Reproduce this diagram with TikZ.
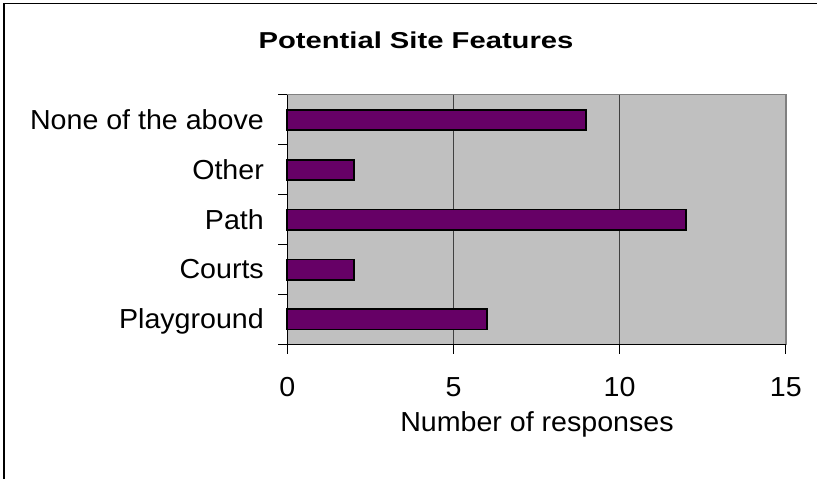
\documentclass[tikz,border=0pt]{standalone}
\usepackage{fontspec}
\setmainfont{Liberation Sans}
\newfontfamily\titlefont[FakeStretch=1.27]{Liberation Sans}
\newfontfamily\labelfont[FakeStretch=1.04]{Liberation Sans}
\definecolor{plotgray}{HTML}{C0C0C0}
\definecolor{framegray}{HTML}{808080}
\definecolor{barpurple}{HTML}{660066}
\definecolor{gridgray}{HTML}{404040}
\begin{document}
\begin{tikzpicture}[x=1pt,y=-1pt,
  lbl/.style={inner sep=0pt,font=\labelfont\fontsize{27.5}{27.5}\selectfont},
  bar/.style={draw=black,line width=1.8pt,fill=barpurple},
  axisline/.style={draw=black,line width=1.1pt},
  grid line/.style={draw=gridgray,line width=0.9pt}]
\useasboundingbox (0,0) rectangle (817,479);
% chart frame (left and top edges)
\draw[line width=1.6pt] (4,479) -- (4,3.5) -- (817,3.5);
% title
\node[inner sep=0pt,anchor=base,font=\titlefont\bfseries\fontsize{23}{23}\selectfont] (title) at (416,48.3) {Potential Site Features};
% plot area
\path[fill=plotgray,draw=framegray,line width=1.5pt] (287.3,94.7) rectangle (785.8,344.3);
% vertical gridlines at 5 and 10
\foreach \v in {5,10} \draw[grid line] ({287.3+33.23*\v},94.7) -- ({287.3+33.23*\v},344.3);
% bars: category index (from top), value
\foreach \i/\v in {0/9,1/2,2/12,3/2,4/6}
  \path[bar] (287.3,{109.7+49.92*\i}) rectangle ({287.3+33.23*\v},{129.9+49.92*\i});
% axes
\draw[axisline] (287.3,94.7) -- (287.3,344.3) -- (785.8,344.3);
\foreach \i in {0,...,5} \draw[axisline] (278,{94.7+49.92*\i}) -- (287.3,{94.7+49.92*\i});
\foreach \v in {0,5,10,15} \draw[axisline] ({287.3+33.23*\v},344.3) -- ({287.3+33.23*\v},353.5);
% category labels
\foreach \i/\t/\n in {0/None of the above/cnone,1/Other/cother,2/Path/cpath,3/Courts/ccourts,4/Playground/cplay}
  \node[lbl,anchor=base east] (\n) at (264,{129.2+49.92*\i}) {\t};
% value labels
\foreach \v in {0,5,10,15}
  \node[lbl,anchor=base] (tick\v) at ({287.3+33.23*\v},396.6) {\v};
% axis title
\node[lbl,anchor=base] (xtitle) at (537,431.7) {Number of responses};
\end{tikzpicture}
\end{document}
